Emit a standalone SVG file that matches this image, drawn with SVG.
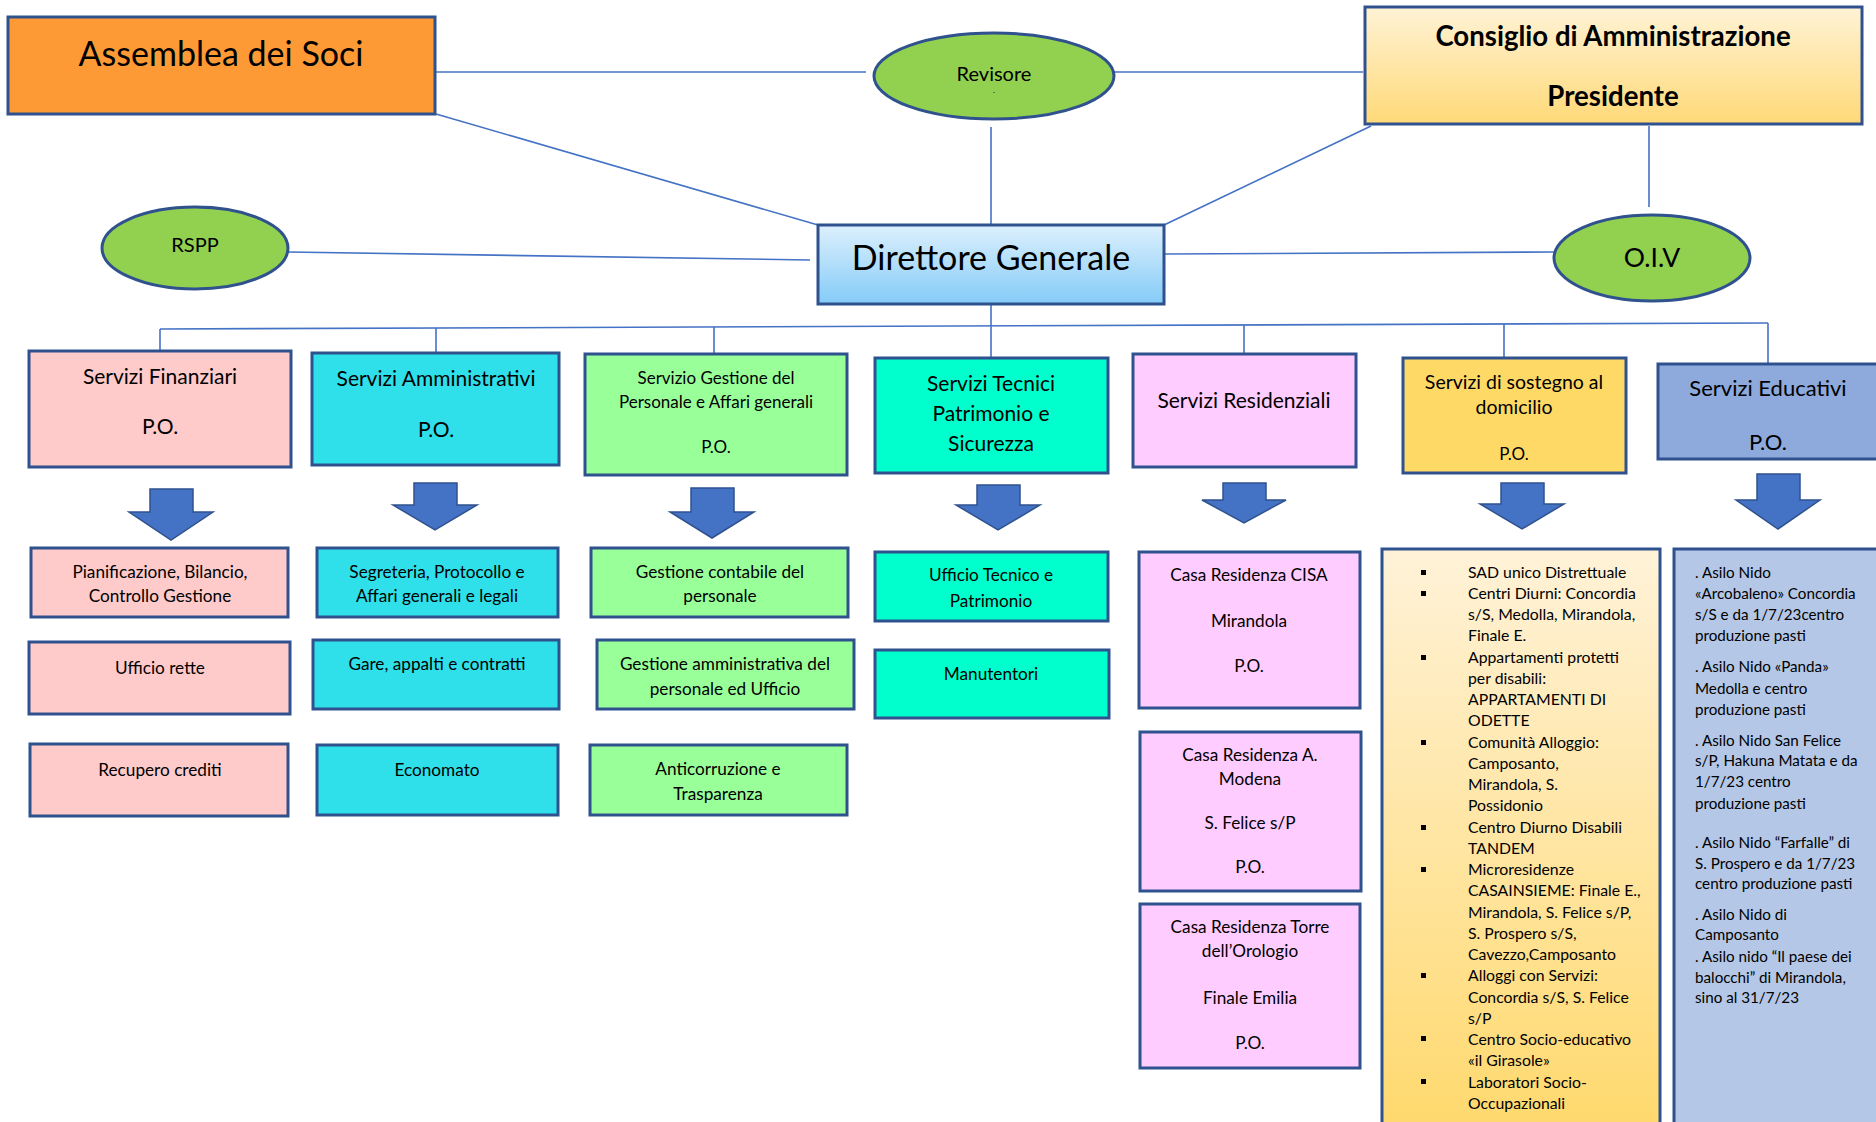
<svg xmlns="http://www.w3.org/2000/svg" width="1876" height="1122" viewBox="0 0 1876 1122">
<defs>
<linearGradient id="gDG" x1="0" y1="0" x2="0" y2="1"><stop offset="0" stop-color="#DDF0FD"/><stop offset="1" stop-color="#84CBF7"/></linearGradient>
<linearGradient id="gCdA" x1="0" y1="0" x2="0" y2="1"><stop offset="0" stop-color="#FFF3D6"/><stop offset="1" stop-color="#FFD978"/></linearGradient>
<linearGradient id="gSost" x1="0" y1="0" x2="0" y2="1"><stop offset="0" stop-color="#FFF2D8"/><stop offset="1" stop-color="#FFD96E"/></linearGradient>
<style>
text{font-family:Lato,"Liberation Sans",sans-serif;fill:#000;}
.c{text-anchor:middle;}
.box{stroke:#2F528F;stroke-width:3;}
.ell{fill:#92D050;stroke:#2F528F;stroke-width:3;}
.ln{stroke:#4472C4;stroke-width:1.6;fill:none;}
.arr{fill:#4472C4;stroke:#2F528F;stroke-width:1.5;}
.f20{font-size:20px;}
.f21{font-size:21px;}
.f16{font-size:17.2px;}
.f15{font-size:15.2px;}
.f158{font-size:15.8px;}
.pk{fill:#FFCACA;}
.cy{fill:#2FE0EA;}
.gr{fill:#99FF99;}
.tq{fill:#00FFCC;}
.li{fill:#FFCCFF;}
</style>
</defs>
<rect width="1876" height="1122" fill="#FFFFFF"/>

<g id="connectors">
<line class="ln" x1="436" y1="72" x2="866" y2="72"/>
<line class="ln" x1="1115" y1="72" x2="1363" y2="72"/>
<line class="ln" x1="436" y1="114" x2="818" y2="225"/>
<line class="ln" x1="991" y1="127" x2="991" y2="225"/>
<line class="ln" x1="1371" y1="126" x2="1164" y2="225"/>
<line class="ln" x1="1649" y1="126" x2="1649" y2="207"/>
<line class="ln" x1="288" y1="252" x2="810" y2="260"/>
<line class="ln" x1="1164" y1="254" x2="1554" y2="252"/>
<line class="ln" x1="991" y1="304" x2="991" y2="326"/>
<line class="ln" x1="160" y1="329" x2="1768" y2="323"/>
<line class="ln" x1="160" y1="329" x2="160" y2="351"/>
<line class="ln" x1="436" y1="328" x2="436" y2="353"/>
<line class="ln" x1="714" y1="327" x2="714" y2="354"/>
<line class="ln" x1="991" y1="326" x2="991" y2="358"/>
<line class="ln" x1="1244" y1="325" x2="1244" y2="354"/>
<line class="ln" x1="1504" y1="324" x2="1504" y2="365"/>
<line class="ln" x1="1768" y1="323" x2="1768" y2="364"/>
</g>

<g id="assemblea">
<rect class="box" x="8" y="17" width="427" height="97" fill="#FE9A35"/>
<text class="c" x="221" y="66" font-size="34">Assemblea dei Soci</text>
</g>

<g id="revisore">
<ellipse class="ell" cx="994" cy="76" rx="120" ry="43"/>
<text class="c f20" x="994" y="81">Revisore</text>
<text class="c" x="994" y="93" font-size="8">.</text>
</g>

<g id="consiglio">
<rect class="box" x="1365" y="7" width="497" height="117" fill="url(#gCdA)"/>
<text class="c" x="1613" y="46" font-size="27.6" font-weight="bold">Consiglio di Amministrazione</text>
<text class="c" x="1613" y="106" font-size="27.6" font-weight="bold">Presidente</text>
</g>

<g id="rspp">
<ellipse class="ell" cx="195" cy="248" rx="93" ry="41"/>
<text class="c f20" x="195" y="252">RSPP</text>
</g>

<g id="direttore">
<rect class="box" x="818" y="225" width="346" height="79" fill="url(#gDG)"/>
<text class="c" x="991" y="270" font-size="34">Direttore Generale</text>
</g>

<g id="oiv">
<ellipse class="ell" cx="1652" cy="258" rx="98" ry="43"/>
<text class="c" x="1652" y="267" font-size="26.5">O.I.V</text>
</g>

<g id="servizi-finanziari">
<rect class="box pk" x="29" y="351" width="262" height="116"/>
<text class="c f21" x="160" y="384">Servizi Finanziari</text>
<text class="c f21" x="160" y="434">P.O.</text>
</g>
<g id="servizi-amministrativi">
<rect class="box cy" x="312" y="353" width="247" height="112"/>
<text class="c f21" x="436" y="386">Servizi Amministrativi</text>
<text class="c f21" x="436" y="437">P.O.</text>
</g>
<g id="servizio-personale">
<rect class="box gr" x="585" y="354" width="262" height="121"/>
<text class="c" font-size="17" x="716" y="384">Servizio Gestione del</text>
<text class="c" font-size="17" x="716" y="408">Personale e Affari generali</text>
<text class="c" font-size="17" x="716" y="453">P.O.</text>
</g>
<g id="servizi-tecnici">
<rect class="box tq" x="875" y="358" width="233" height="115"/>
<text class="c f21" x="991" y="391">Servizi Tecnici</text>
<text class="c f21" x="991" y="421">Patrimonio e</text>
<text class="c f21" x="991" y="451">Sicurezza</text>
</g>
<g id="servizi-residenziali">
<rect class="box li" x="1133" y="354" width="223" height="113"/>
<text class="c f21" x="1244" y="408">Servizi Residenziali</text>
</g>
<g id="servizi-sostegno">
<rect class="box" x="1403" y="358" width="223" height="115" fill="#FFD966"/>
<text class="c" x="1514" y="389" font-size="19.5">Servizi di sostegno al</text>
<text class="c" x="1514" y="414" font-size="19.5">domicilio</text>
<text class="c" x="1514" y="460" font-size="17">P.O.</text>
</g>
<g id="servizi-educativi">
<rect class="box" x="1658" y="364" width="225" height="95" fill="#8EA9DB"/>
<text class="c" font-size="22" x="1768" y="396">Servizi Educativi</text>
<text class="c" font-size="22" x="1768" y="450">P.O.</text>
</g>

<g id="arrows">
<path class="arr" d="M150,489 H193 V512 H213 L171,540 L129,512 H150 Z"/>
<path class="arr" d="M414,483 H457 V505 H477 L435,530 L393,505 H414 Z"/>
<path class="arr" d="M691,488 H734 V512 H754 L712,538 L670,512 H691 Z"/>
<path class="arr" d="M977,485 H1020 V505 H1040 L998,530 L956,505 H977 Z"/>
<path class="arr" d="M1223,483 H1266 V500 H1286 L1244,523 L1202,500 H1223 Z"/>
<path class="arr" d="M1501,483 H1544 V504 H1564 L1522,529 L1480,504 H1501 Z"/>
<path class="arr" d="M1757,474 H1800 V500 H1820 L1778,529 L1736,500 H1757 Z"/>
</g>

<g id="pianificazione">
<rect class="box pk" x="31" y="548" width="257" height="69"/>
<text class="c f16" x="160" y="578">Pianificazione, Bilancio,</text>
<text class="c f16" x="160" y="602">Controllo Gestione</text>
</g>
<g id="ufficio-rette">
<rect class="box pk" x="29" y="642" width="261" height="72"/>
<text class="c f16" x="160" y="674">Ufficio rette</text>
</g>
<g id="recupero-crediti">
<rect class="box pk" x="30" y="744" width="258" height="72"/>
<text class="c f16" x="160" y="776">Recupero crediti</text>
</g>

<g id="segreteria">
<rect class="box cy" x="317" y="548" width="241" height="69"/>
<text class="c f16" x="437" y="578">Segreteria, Protocollo e</text>
<text class="c f16" x="437" y="602">Affari generali e legali</text>
</g>
<g id="gare">
<rect class="box cy" x="313" y="640" width="246" height="69"/>
<text class="c f16" x="437" y="670">Gare, appalti e contratti</text>
</g>
<g id="economato">
<rect class="box cy" x="317" y="745" width="241" height="70"/>
<text class="c f16" x="437" y="776">Economato</text>
</g>

<g id="gestione-contabile">
<rect class="box gr" x="591" y="548" width="257" height="69"/>
<text class="c f16" x="720" y="578">Gestione contabile del</text>
<text class="c f16" x="720" y="602">personale</text>
</g>
<g id="gestione-amministrativa">
<rect class="box gr" x="597" y="640" width="257" height="69"/>
<text class="c f16" x="725" y="670">Gestione amministrativa del</text>
<text class="c f16" x="725" y="695">personale ed Ufficio</text>
</g>
<g id="anticorruzione">
<rect class="box gr" x="590" y="745" width="257" height="70"/>
<text class="c f16" x="718" y="775">Anticorruzione e</text>
<text class="c f16" x="718" y="800">Trasparenza</text>
</g>

<g id="ufficio-tecnico">
<rect class="box tq" x="875" y="552" width="233" height="69"/>
<text class="c f16" x="991" y="581">Ufficio Tecnico e</text>
<text class="c f16" x="991" y="607">Patrimonio</text>
</g>
<g id="manutentori">
<rect class="box tq" x="875" y="650" width="234" height="68"/>
<text class="c f16" x="991" y="680">Manutentori</text>
</g>

<g id="casa-cisa">
<rect class="box li" x="1139" y="552" width="221" height="156"/>
<text class="c f16" x="1249" y="581">Casa Residenza CISA</text>
<text class="c f16" x="1249" y="627">Mirandola</text>
<text class="c f16" x="1249" y="672">P.O.</text>
</g>
<g id="casa-modena">
<rect class="box li" x="1140" y="732" width="221" height="159"/>
<text class="c f16" x="1250" y="761">Casa Residenza A.</text>
<text class="c f16" x="1250" y="785">Modena</text>
<text class="c f16" x="1250" y="829">S. Felice s/P</text>
<text class="c f16" x="1250" y="873">P.O.</text>
</g>
<g id="casa-torre">
<rect class="box li" x="1140" y="904" width="220" height="164"/>
<text class="c f16" x="1250" y="933">Casa Residenza Torre</text>
<text class="c f16" x="1250" y="957">dell’Orologio</text>
<text class="c f16" x="1250" y="1004">Finale Emilia</text>
<text class="c f16" x="1250" y="1049">P.O.</text>
</g>

<g id="elenco-sostegno">
<rect class="box" x="1382" y="549" width="278" height="580" fill="url(#gSost)"/>
<g fill="#000">
<rect x="1421" y="570" width="5" height="5"/>
<rect x="1421" y="591" width="5" height="5"/>
<rect x="1421" y="655" width="5" height="5"/>
<rect x="1421" y="740" width="5" height="5"/>
<rect x="1421" y="825" width="5" height="5"/>
<rect x="1421" y="867" width="5" height="5"/>
<rect x="1421" y="973" width="5" height="5"/>
<rect x="1421" y="1036" width="5" height="5"/>
<rect x="1421" y="1079" width="5" height="5"/>
</g>
<g class="f158">
<text x="1468" y="577.5">SAD unico Distrettuale</text>
<text x="1468" y="598.7">Centri Diurni: Concordia</text>
<text x="1468" y="620">s/S, Medolla, Mirandola,</text>
<text x="1468" y="641.2">Finale E.</text>
<text x="1468" y="662.5">Appartamenti protetti</text>
<text x="1468" y="683.7">per disabili:</text>
<text x="1468" y="705">APPARTAMENTI DI</text>
<text x="1468" y="726.2">ODETTE</text>
<text x="1468" y="747.5">Comunità Alloggio:</text>
<text x="1468" y="768.7">Camposanto,</text>
<text x="1468" y="790">Mirandola, S.</text>
<text x="1468" y="811.2">Possidonio</text>
<text x="1468" y="832.5">Centro Diurno Disabili</text>
<text x="1468" y="853.7">TANDEM</text>
<text x="1468" y="875">Microresidenze</text>
<text x="1468" y="896.2">CASAINSIEME: Finale E.,</text>
<text x="1468" y="917.5">Mirandola, S. Felice s/P,</text>
<text x="1468" y="938.7">S. Prospero s/S,</text>
<text x="1468" y="960">Cavezzo,Camposanto</text>
<text x="1468" y="981.2">Alloggi con Servizi:</text>
<text x="1468" y="1002.5">Concordia s/S, S. Felice</text>
<text x="1468" y="1023.7">s/P</text>
<text x="1468" y="1045">Centro Socio-educativo</text>
<text x="1468" y="1066.2">«il Girasole»</text>
<text x="1468" y="1087.5">Laboratori Socio-</text>
<text x="1468" y="1108.7">Occupazionali</text>
</g>
</g>

<g id="elenco-educativi">
<rect class="box" x="1674" y="549" width="210" height="580" fill="#B4C7E7"/>
<g class="f15">
<text x="1695" y="577.5">. Asilo Nido</text>
<text x="1695" y="598.5">«Arcobaleno»  Concordia</text>
<text x="1695" y="619.5">s/S e da 1/7/23centro</text>
<text x="1695" y="640.5">produzione pasti</text>
<text x="1695" y="671.5">. Asilo Nido «Panda»</text>
<text x="1695" y="694">Medolla e centro</text>
<text x="1695" y="714.5">produzione pasti</text>
<text x="1695" y="745.5">. Asilo Nido San Felice</text>
<text x="1695" y="766">s/P, Hakuna Matata e da</text>
<text x="1695" y="787">1/7/23  centro</text>
<text x="1695" y="808.5">produzione pasti</text>
<text x="1695" y="847.5">. Asilo Nido “Farfalle” di</text>
<text x="1695" y="868.5">S. Prospero e da 1/7/23</text>
<text x="1695" y="889">centro produzione pasti</text>
<text x="1695" y="919.5">. Asilo Nido di</text>
<text x="1695" y="940">Camposanto</text>
<text x="1695" y="961.5">. Asilo nido “Il paese dei</text>
<text x="1695" y="982.5">balocchi” di Mirandola,</text>
<text x="1695" y="1003">sino al 31/7/23</text>
</g>
</g>
</svg>
